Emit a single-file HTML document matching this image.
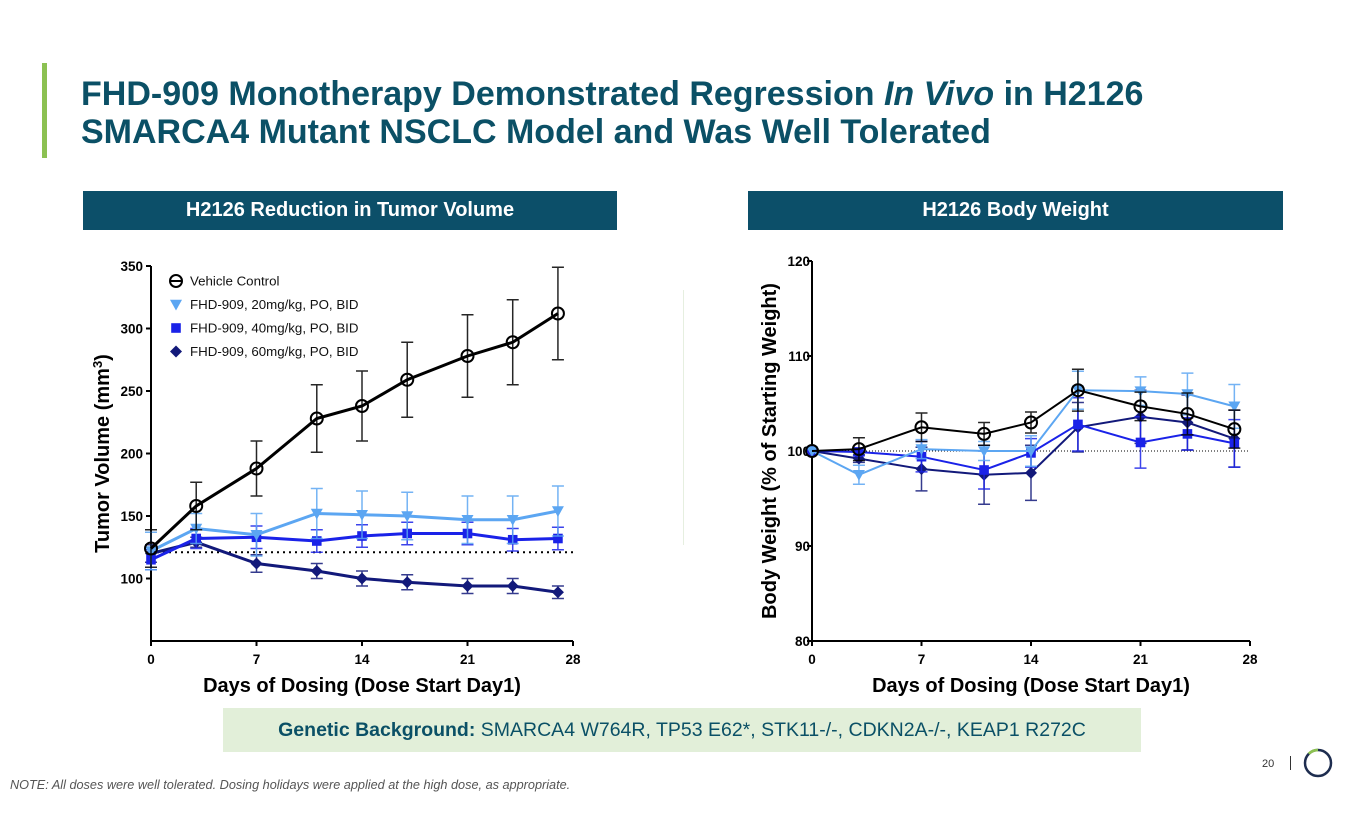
<!DOCTYPE html>
<html><head><meta charset="utf-8">
<style>
body{margin:0;width:1365px;height:829px;background:#fff;position:relative;overflow:hidden;font-family:"Liberation Sans",Arial,sans-serif}
.abs{position:absolute}
.hdr{background:#0c4f69;color:#fff;font-weight:bold;font-size:20px;text-align:center;line-height:39px;height:39px}
</style></head><body>
<div class="abs" style="left:42px;top:63px;width:5px;height:95px;background:#8cc152"></div>
<div class="abs" style="left:81px;top:75px;font-size:34px;font-weight:bold;color:#0b5066;line-height:38px">FHD-909 Monotherapy Demonstrated Regression <i>In Vivo</i> in H2126<br>SMARCA4 Mutant NSCLC Model and Was Well Tolerated</div>
<div class="abs hdr" style="left:83px;top:191px;width:534px">H2126 Reduction in Tumor Volume</div>
<div class="abs hdr" style="left:748px;top:191px;width:535px">H2126 Body Weight</div>
<div class="abs" style="left:683px;top:290px;width:1px;height:255px;background:#e6efe0"></div>
<div class="abs" style="left:223px;top:708px;width:918px;height:44px;background:#e2efd9;color:#0b5066;font-size:19.5px;line-height:44px;text-align:center;white-space:nowrap"><b>Genetic Background:</b> SMARCA4 W764R, TP53 E62*, STK11-/-, CDKN2A-/-, KEAP1 R272C</div>
<div class="abs" style="left:1262px;top:758px;font-size:11px;color:#333">20</div>
<div class="abs" style="left:1290px;top:756px;width:1px;height:14px;background:#333"></div>
<svg class="abs" style="left:1302px;top:747px" width="32" height="32"><circle cx="16" cy="16" r="13" fill="none" stroke="#1e2d4f" stroke-width="2.5"/><path d="M6.8 6.8 A13 13 0 0 1 16 3" fill="none" stroke="#8cc152" stroke-width="2.8"/></svg>
<div class="abs" style="left:10px;top:778px;font-size:12.7px;font-style:italic;color:#555;white-space:nowrap">NOTE: All doses were well tolerated. Dosing holidays were applied at the high dose, as appropriate.</div>
<svg id="chart" class="abs" style="left:0;top:0" width="1365" height="829"></svg>
<script>
const days=[0,3,7,11,14,17,21,24,27];
const seriesNames=["Vehicle Control","FHD-909, 20mg/kg, PO, BID","FHD-909, 40mg/kg, PO, BID","FHD-909, 60mg/kg, PO, BID"];
const tvVehicle=[124,158,188,228,238,259,278,289,312];
const tvVehicleErr=[15,19,22,27,28,30,33,34,37];
const tv20=[122,140,135,152,151,150,147,147,154];
const tv20Err=[15,12,17,20,19,19,19,19,20];
const tv40=[115,132,133,130,134,136,136,131,132];
const tv40Err=[8,8,9,9,9,9,9,9,9];
const tv60=[120,129,112,106,100,97,94,94,89];
const tv60Err=[7,4,7,6,6,6,6,6,5];
const tvBaseline=121;
const bwVehicle=[100,100.2,102.5,101.8,103,106.4,104.7,103.9,102.3];
const bwVehicleErr=[0,1.2,1.5,1.2,1.1,2.2,1.5,2.2,2];
const bw20=[100,97.5,100.2,100,100,106.4,106.3,106,104.7];
const bw20Err=[0,1,1,1,1.6,2,1.5,2.2,2.3];
const bw40=[100,99.9,99.4,98,99.8,102.8,100.9,101.8,100.8];
const bw40Err=[0,0.4,1.6,2,1.5,2.8,2.7,1.7,2.5];
const bw60=[100,99.2,98.1,97.5,97.7,102.5,103.6,103,101.3];
const bw60Err=[0,0.4,2.3,3.1,2.9,2.6,2.8,2.9,3];
const bwBaseline=100;
const xTicks=[0,7,14,21,28];
const tvTicks=[100,150,200,250,300,350];
const bwTicks=[80,90,100,110,120];
const colors=["#000000","#5ca6f2","#1a22e8","#12197a"];
const markers=["circle","tri","square","diamond"];
const NS="http://www.w3.org/2000/svg";
const svg=document.getElementById('chart');
function el(t,a,p){const e=document.createElementNS(NS,t);for(const k in a)e.setAttribute(k,a[k]);(p||svg).appendChild(e);return e;}
function marker(g,type,x,y,c,s){
 let e;
 if(type==="circle")e=el('circle',{cx:x,cy:y,r:s,fill:'none',stroke:c,'stroke-width':2},g);
 else if(type==="tri")e=el('path',{d:`M${x-s} ${y-s*0.8}L${x+s} ${y-s*0.8}L${x} ${y+s}Z`,fill:c},g);
 else if(type==="square")e=el('rect',{x:x-s*0.8,y:y-s*0.8,width:s*1.6,height:s*1.6,fill:c},g);
 else e=el('path',{d:`M${x} ${y-s}L${x+s} ${y}L${x} ${y+s}L${x-s} ${y}Z`,fill:c},g);
 
 
}
function drawChart(cfg){
 const {x0,x1,y0,y1,vmin,vmax,yTicks,series,errs,baseline,name,lw,ms,ytitle,ytx,ylabelx}=cfg;
 const X=d=>x0+(d/28)*(x1-x0);
 const Y=v=>y0-(v-vmin)/(vmax-vmin)*(y0-y1);
 const g=el('g',{});
 
 
 const ax=el('path',{d:`M${x0} ${y1}V${y0}H${x1}`,fill:'none',stroke:'#000','stroke-width':2},g);
 
 
 xTicks.forEach(t=>{el('line',{x1:X(t),x2:X(t),y1:y0,y2:y0+5,stroke:'#000','stroke-width':2},g);
  const tx=el('text',{x:X(t),y:y0+23,'text-anchor':'middle','font-size':13.5,'font-weight':'bold'},g);tx.textContent=t;
  
  });
 yTicks.forEach(t=>{el('line',{x1:x0-5,x2:x0,y1:Y(t),y2:Y(t),stroke:'#000','stroke-width':2},g);
  const tx=el('text',{x:ylabelx,y:Y(t)+5,'text-anchor':'end','font-size':13.5,'font-weight':'bold'},g);tx.textContent=t;
  
  });
 const bl=el('line',{x1:x0,x2:x1,y1:Y(baseline),y2:Y(baseline),stroke:'#000','stroke-width':cfg.blw,'stroke-dasharray':cfg.bld},g);
 
 
 const xt=el('text',{x:(x0+x1)/2,y:y0+51,'text-anchor':'middle','font-size':20,'font-weight':'bold'},g);xt.textContent="Days of Dosing (Dose Start Day1)";
 
 
 const yt=el('text',{x:0,y:0,'text-anchor':'middle','font-size':20,'font-weight':'bold',transform:`translate(${ytx},${(y0+y1)/2}) rotate(-90)`},g);yt.innerHTML=ytitle;
 
 
 for(let s=series.length-1;s>=0;s--){
  const vals=series[s],er=errs[s],c=colors[s];
  const sg=el('g',{},g);
  
  
  days.forEach((d,i)=>{if(er[i]>0){const x=X(d);
   el('path',{d:`M${x} ${Y(vals[i]-er[i])}V${Y(vals[i]+er[i])}M${x-6} ${Y(vals[i]-er[i])}H${x+6}M${x-6} ${Y(vals[i]+er[i])}H${x+6}`,stroke:c,'stroke-width':1.5,fill:'none',opacity:0.85},sg);}});
  el('polyline',{points:days.map((d,i)=>X(d)+','+Y(vals[i])).join(' '),fill:'none',stroke:c,'stroke-width':lw},sg);
  days.forEach((d,i)=>marker(sg,markers[s],X(d),Y(vals[i]),c,ms));
 }
}
drawChart({x0:151,x1:573,y0:641,y1:266,vmin:50,vmax:350,yTicks:tvTicks,series:[tvVehicle,tv20,tv40,tv60],errs:[tvVehicleErr,tv20Err,tv40Err,tv60Err],baseline:tvBaseline,name:'tumor-volume-chart',lw:3,ms:6,ytitle:'Tumor Volume (mm<tspan dy="-7" font-size="13">3</tspan><tspan dy="7">)</tspan>',ytx:109,ylabelx:143,blw:2,bld:'2 4'});
drawChart({x0:812,x1:1250,y0:641,y1:261,vmin:80,vmax:120,yTicks:bwTicks,series:[bwVehicle,bw20,bw40,bw60],errs:[bwVehicleErr,bw20Err,bw40Err,bw60Err],baseline:bwBaseline,name:'body-weight-chart',lw:2,ms:6,ytitle:'Body Weight (% of Starting Weight)',ytx:776,ylabelx:810,blw:1,bld:'1 2'});
seriesNames.forEach((n,i)=>{const y=281+i*23.5;
 const lg=el('g',{});
 
 
 marker(lg,markers[i],176,y,colors[i],6);
 if(i===0)el('line',{x1:170,x2:182,y1:y,y2:y,stroke:'#000','stroke-width':2},lg);
 const t=el('text',{x:190,y:y+4.5,'font-size':13.3,fill:'#111'},lg);t.textContent=n;});
</script>
</body></html>
